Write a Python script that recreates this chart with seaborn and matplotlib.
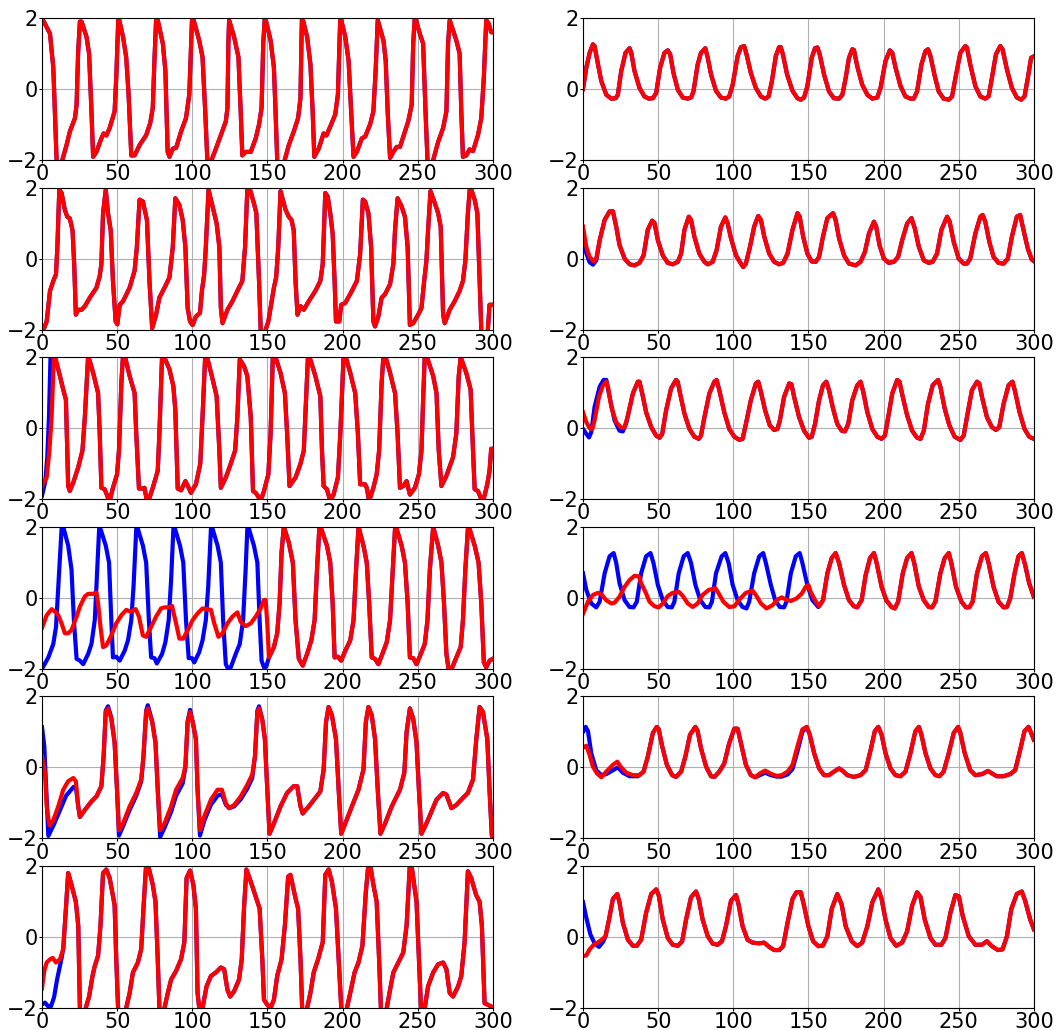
import matplotlib
matplotlib.use("Agg")
import matplotlib.pyplot as plt
import seaborn as sns

# time axis / tick setup
x_ticks = [0, 50, 100, 150, 200, 250, 300]
y_ticks = [-2, 0, 2]

# ---- left column: fast variable, (t, v) points ----
L1_red = [(0,2.0),(5.3,1.56),(7.5,0.6),(9.7,-2.0),(10.3,-2.3),(12.8,-2.3),(13.5,-2.0),(16.3,-1.58),(18.5,-1.2),(21.9,-0.82),(23,-0.44),(24,1.0),(25.2,1.9),(26.3,1.9),(29.6,1.47),(31.3,1.0),(32.9,-0.63),(34,-1.91),(36.2,-1.77),(39.5,-1.39),(41,-1.25),(42.8,-1.31),(45,-1.1),(48.3,-0.63),(49.4,0.32),(50.8,2.05),(53.9,1.47),(56,0.9),(57.6,-0.15),(59.4,-1.87),(61.6,-1.87),(64.9,-1.58),(69.3,-1.3),(72,-0.96),(73.7,-0.53),(74.8,0.8),(75.9,1.94),(77,1.94),(80.4,1.28),(82.1,0.51),(83.6,-1.77),(84.8,-1.91),(87,-1.68),(89.2,-1.66),(92.5,-1.2),(95.8,-0.82),(98,-0.15),(99.8,1.94),(100.7,1.97),(104.6,1.37),(106.8,0.9),(108.6,-0.63),(110,-2.0),(110.5,-2.3),(112,-2.3),(112.8,-2.0),(115.7,-1.68),(119,-1.3),(122.3,-0.91),(123.4,-0.53),(124,1.28),(124.5,1.94),(127.8,1.47),(130.7,0.9),(132.2,-0.63),(133.3,-1.87),(135.5,-1.77),(138.9,-1.77),(142.2,-1.39),(144.4,-1.0),(146.1,-0.53),(147.2,1.28),(148.3,2.05),(152.1,1.37),(154.3,0.61),(155.4,-0.63),(156.5,-2.0),(157,-2.3),(160.5,-2.3),(161.5,-2.0),(164.2,-1.58),(167.5,-1.2),(170.4,-0.82),(172,-0.25),(172.6,1.28),(173,2.05),(176.4,1.47),(178.6,0.7),(180.1,-0.63),(181.2,-1.91),(184.1,-1.68),(187.4,-1.25),(189.2,-1.31),(191.8,-1.06),(195.1,-0.72),(196.9,-0.15),(198.5,2.05),(201.8,1.47),(204,0.8),(205.7,-0.63),(207.3,-1.91),(209.5,-1.77),(212.8,-1.39),(215,-1.34),(218.3,-1.0),(220.5,-0.63),(222,0.51),(223.4,1.94),(227.2,1.37),(228.7,0.8),(230,-0.63),(231.6,-1.94),(233.8,-1.77),(236,-1.63),(238.2,-1.63),(241.5,-1.2),(243.7,-0.91),(246,-0.44),(247,1.28),(248.1,2.05),(251.4,1.56),(253.6,1.28),(255.2,-0.63),(256.5,-2.0),(257,-2.3),(259.5,-2.3),(260.3,-2.0),(263.6,-1.49),(266.9,-1.1),(269.1,-0.63),(270.2,1.28),(271.3,1.94),(275.7,1.37),(277.9,1.0),(279,-0.63),(280.1,-1.91),(282.3,-1.87),(284.5,-1.7),(286.8,-1.75),(290.1,-1.3),(292.3,-0.82),(294,0.32),(295.6,1.94),(297.1,1.85),(298.9,1.6),(300,1.6)]

L2_red = [(0,-2.3),(1,-2.0),(3.1,-1.77),(5.3,-0.91),(7.5,-0.63),(9.3,-0.44),(10.2,0.32),(11.5,1.94),(13,1.85),(15.2,1.37),(16.8,1.18),(18.5,1.13),(20.3,0.8),(21.4,-0.15),(22.5,-1.58),(24.1,-1.44),(26.3,-1.44),(28.5,-1.34),(31.8,-1.1),(36.2,-0.82),(38.4,-0.49),(39.5,-0.15),(40.6,1.28),(42.4,1.94),(43.9,1.28),(45.7,0.8),(47.2,-0.63),(49,-1.77),(50.1,-1.85),(51.7,-1.3),(53.9,-1.2),(58.3,-0.82),(61.6,-0.34),(63.1,0.32),(64.9,1.66),(67.1,1.61),(69.8,1.09),(71.5,-0.63),(73.3,-1.96),(75.9,-1.58),(78.1,-1.1),(81.5,-0.82),(84.8,-0.53),(87,0.32),(88.7,1.7),(91.4,1.51),(93.6,1.09),(95.4,0.32),(96.9,-1.39),(98.5,-1.77),(100.2,-1.87),(102.4,-1.63),(105.1,-1.53),(106.4,-0.91),(107.9,-0.44),(109,0.32),(110.8,1.94),(113.5,1.47),(116.2,0.99),(118,0.32),(119,-1.39),(120.1,-1.82),(123.4,-1.44),(126.7,-1.2),(130,-0.91),(133.3,-0.63),(135.1,0.32),(136.6,1.94),(137.7,2.05),(141,1.56),(142.6,1.28),(144.4,-0.63),(145.5,-2.0),(146,-2.3),(148.3,-2.3),(148.8,-2.0),(150.6,-1.77),(152.1,-1.39),(154.3,-0.82),(155.8,-0.53),(157.2,0.32),(158.7,1.9),(162.1,1.37),(164.2,1.18),(166,1.09),(167.5,0.8),(168.7,-0.63),(170,-1.58),(172,-1.34),(174.2,-1.44),(177.5,-1.2),(181.9,-0.91),(185.2,-0.63),(186.8,-0.15),(188.5,1.85),(190.1,1.75),(191.8,1.28),(193.4,0.7),(194.7,-0.63),(195.6,-1.77),(197.8,-1.77),(199.1,-1.3),(201.8,-1.25),(206.2,-0.91),(209.5,-0.63),(211.7,0.13),(213.5,1.66),(215,1.61),(217.2,1.28),(219,0.32),(220.5,-1.77),(221.6,-1.91),(223.8,-1.63),(226,-1.1),(228.3,-1.0),(231.6,-0.72),(233.8,-0.15),(234.9,0.8),(236.6,1.7),(239.3,1.47),(241.5,1.18),(243.3,0.32),(244.8,-1.87),(247,-1.82),(250.3,-1.58),(252.5,-1.39),(254.3,-0.63),(255.8,-0.06),(256.9,0.8),(258.5,1.9),(261.4,1.56),(263.6,1.28),(265.3,0.9),(266.9,-1.58),(268,-1.82),(271.3,-1.44),(274.6,-1.2),(277.9,-0.91),(280.1,-0.63),(281.7,-0.06),(283.4,1.28),(284.8,2.05),(287.9,1.66),(289.7,1.28),(291.2,-0.63),(292.3,-2.0),(292.8,-2.3),(296,-2.3),(296.7,-2.0),(297.8,-1.3),(300,-1.3)]

L3_red = [(0,-1.65),(0.4,-1.58),(3.1,-1.39),(4.9,-0.63),(6.4,0.32),(7.9,2.05),(8.6,2.05),(10.8,1.66),(14.1,1.09),(15.9,0.8),(16.8,-0.63),(17.4,-1.63),(18.5,-1.77),(20.8,-1.53),(24.1,-1.1),(26.9,-0.63),(28.5,0.32),(30.7,2.05),(34,1.56),(37.3,0.99),(38.4,-0.15),(39.5,-1.68),(41.7,-1.72),(43.9,-1.96),(45,-2.05),(47.2,-1.68),(49.9,-1.3),(51.2,-0.63),(52.8,1.28),(53.9,2.05),(55,2.05),(58.3,1.47),(61.6,0.99),(62.7,-0.15),(64.5,-1.7),(67.1,-1.7),(68.2,-1.68),(69.8,-2.05),(71.5,-1.96),(73.7,-1.68),(77,-1.2),(78.1,-0.15),(79.9,2.05),(80.8,2.05),(84.8,1.66),(87.4,1.18),(88.7,0.51),(90.3,-1.7),(92.5,-1.75),(95.4,-1.49),(97.6,-1.68),(99.1,-1.82),(102.4,-1.58),(105.3,-1.0),(106.8,0.32),(108.6,2.05),(109.5,2.05),(113,1.47),(116.2,0.9),(118,-0.63),(119,-1.68),(122.3,-1.39),(125.6,-1.0),(128.5,-0.63),(130,0.32),(131.6,1.94),(134.4,1.75),(136.6,1.47),(138.9,0.32),(140.4,-1.77),(142.2,-1.82),(144.4,-1.96),(145.5,-2.05),(147.7,-1.77),(150.6,-1.3),(152.1,-0.15),(153.6,2.05),(155,2.05),(158.7,1.56),(161.6,0.99),(163.1,-0.15),(164.7,-1.63),(168.7,-1.39),(172,-1.0),(174.2,-0.63),(175.7,0.8),(177,2.05),(178.5,1.94),(181.9,1.47),(185.2,0.9),(186.3,-0.63),(187.4,-1.63),(189.6,-1.72),(191.8,-2.05),(194,-1.87),(196.9,-1.39),(198.5,-0.15),(200.7,2.05),(201.8,2.05),(205.1,1.56),(208.4,0.99),(210.2,-0.15),(211.7,-1.58),(215,-1.58),(216.1,-1.68),(217.7,-2.05),(220.5,-1.68),(222.7,-1.3),(224.3,-0.63),(226,1.28),(227.2,2.05),(228.3,2.05),(231.6,1.56),(234.9,0.99),(236.6,-0.15),(238.2,-1.68),(240.4,-1.63),(242.6,-1.49),(244.8,-1.87),(248.1,-1.68),(250.8,-1.3),(252.5,-0.63),(253.6,0.8),(254.7,2.05),(255.8,2.05),(260.3,1.47),(262.5,0.99),(264,-0.63),(265.8,-1.63),(269.1,-1.34),(273.5,-0.82),(275.7,-0.15),(277.3,1.47),(278.6,2.0),(282.3,1.56),(285.2,1.09),(286.8,-0.63),(287.9,-1.72),(290.1,-1.77),(291.9,-1.96),(294.1,-1.96),(296.3,-1.58),(297.8,-1.2),(298.9,-0.58),(300,-0.58)]
L3_blue_head = [(0,-1.9),(2.2,-1.5),(3.5,-0.8),(4.6,0.3),(5.7,2.1),(7.5,2.1),(10.8,1.66)]

L4_red_head = [(0,-0.85),(3.1,-0.49),(6.4,-0.32),(8.6,-0.39),(10.8,-0.49),(13,-0.72),(15.2,-1.0),(17.4,-1.0),(19.6,-0.91),(23,-0.53),(25.2,-0.25),(28.5,0.04),(30.7,0.11),(34,0.11),(36.2,0.15),(37.3,-0.15),(38.9,-0.82),(40.6,-1.39),(42.8,-1.34),(46.1,-1.06),(49.4,-0.72),(52.8,-0.49),(56.1,-0.34),(58.9,-0.39),(62.3,-0.32),(64.5,-0.53),(67.1,-1.06),(69.3,-1.1),(72.6,-0.82),(75.9,-0.53),(79.2,-0.3),(81.5,-0.27),(84.3,-0.27),(86.5,-0.23),(89.2,-0.72),(91.4,-1.15),(94,-1.15),(97,-0.91),(100.2,-0.63),(103.5,-0.44),(106.8,-0.3),(110.2,-0.32),(112.4,-0.34),(114.6,-0.72),(117.4,-1.1),(120.1,-1.0),(123.4,-0.72),(126.7,-0.53),(130,-0.41),(132.2,-0.68),(135.5,-0.8),(138.9,-0.72),(142.2,-0.53),(145.5,-0.3),(147.7,-0.06),(148.8,-0.06),(149.9,-0.72),(151,-1.68)]
L4_blue_head = [(0,-2.0),(4.2,-1.68),(7.5,-1.3),(9.3,-0.82),(10.8,0.32),(13,1.94),(14.1,2.0),(17.4,1.47),(19.6,0.8),(21.2,-0.63),(23,-1.72),(25.2,-1.77),(27.4,-1.87),(30.7,-1.58),(32.9,-1.3),(35.1,-0.63),(36.2,0.32),(38,1.94),(38.9,1.94),(42.4,1.47),(44.6,0.99),(46.1,-0.63),(47.2,-1.68),(49.4,-1.66),(51.7,-1.77),(55,-1.49),(57.2,-1.2),(59.4,-0.63),(60.9,0.32),(62.7,1.94),(63.8,1.94),(67.1,1.47),(69.3,0.99),(71.1,-0.63),(72.6,-1.68),(74.8,-1.7),(76.4,-1.85),(79.9,-1.58),(82.1,-1.25),(84.3,-0.63),(85.9,0.51),(87.4,1.94),(88.5,1.94),(91.8,1.47),(94,0.99),(95.8,-0.63),(97.6,-1.7),(99.8,-1.7),(101.3,-1.82),(104.6,-1.53),(106.8,-1.2),(109,-0.63),(110.6,0.32),(112.4,1.94),(113.5,1.94),(116.8,1.47),(119,0.99),(120.5,-0.63),(122.3,-1.87),(124,-2.02),(125.6,-1.96),(128.9,-1.58),(131.6,-1.3),(133.8,-0.63),(135.5,0.8),(136.6,1.94),(137.7,1.94),(141,1.47),(143.3,0.99),(144.8,-0.63),(146.1,-1.77),(147.7,-1.96),(149.2,-1.94),(151,-1.68)]
L4_tail = [(154.3,-1.39),(156.5,-1.0),(158.1,-0.15),(159.4,1.28),(160.9,2.0),(164.2,1.56),(166.9,0.99),(168.7,-0.63),(170.9,-1.72),(173.5,-1.91),(176.4,-1.58),(179.2,-1.2),(181.4,-0.63),(183,0.8),(184.5,1.94),(185.8,1.94),(189.6,1.47),(191.8,0.99),(193.4,-0.15),(194.7,-1.68),(196.9,-1.66),(199.1,-1.77),(201.8,-1.49),(205.1,-1.2),(207.3,-0.63),(209,0.8),(210.6,2.0),(213.9,1.47),(216.1,0.99),(217.7,-0.15),(219.4,-1.68),(221.6,-1.72),(223.8,-1.87),(226.5,-1.58),(229.4,-1.25),(231.6,-0.63),(233.4,0.8),(234.9,1.94),(236,1.94),(239.3,1.47),(241.5,0.99),(243.3,-0.15),(244.8,-1.68),(247,-1.7),(249.2,-1.87),(252.1,-1.58),(254.7,-1.3),(256.5,-0.63),(258.1,0.8),(260.3,2.0),(263.6,1.47),(265.8,0.99),(267.5,-0.15),(269.1,-1.58),(270.6,-2.02),(272.8,-1.98),(275.7,-1.68),(278.6,-1.39),(280.1,-0.63),(281.7,0.8),(283.4,1.94),(284.5,1.94),(287.9,1.47),(290.5,0.99),(292.3,-0.15),(294,-1.82),(295.6,-1.96),(297.8,-1.77),(300,-1.72)]

L5_red = [(0,0.3),(2,-0.15),(3.1,-1.1),(4.9,-1.63),(7.5,-1.49),(10.8,-1.1),(14.1,-0.63),(17.4,-0.39),(20.8,-0.3),(22.5,-0.39),(24.1,-1.1),(25.2,-1.39),(28.5,-1.2),(32.9,-0.96),(36.2,-0.82),(39.5,-0.53),(41,0.32),(42.4,1.56),(43.9,1.66),(46.1,1.37),(48.3,0.7),(49.9,-0.63),(51.2,-1.77),(53.9,-1.58),(58.3,-1.1),(62.7,-0.72),(66,-0.34),(67.5,0.32),(69.3,1.56),(70.4,1.66),(73.3,1.28),(75.5,0.7),(77,-0.63),(78.6,-1.77),(81.5,-1.58),(85.9,-1.1),(89.2,-0.63),(93.6,-0.3),(95.4,0.04),(96.9,1.28),(98.5,1.56),(100.2,1.28),(102.4,0.8),(103.5,-0.63),(105.1,-1.77),(107.9,-1.39),(112.4,-0.91),(116.8,-0.63),(119.7,-0.63),(122.3,-1.01),(124.5,-1.15),(127.8,-1.06),(132.2,-0.82),(136.6,-0.49),(139.9,-0.2),(141.7,0.32),(143.3,1.56),(144.4,1.66),(146.6,1.32),(148.3,0.8),(149.9,-0.63),(151.4,-1.87),(154.3,-1.58),(158.7,-1.1),(163.1,-0.72),(167.5,-0.53),(169.8,-0.53),(172,-1.1),(173.5,-1.3),(177.5,-1.1),(181.9,-0.86),(185.2,-0.68),(187.4,-0.06),(189,1.28),(190.7,1.7),(192.9,1.47),(195.6,0.8),(197.4,-0.63),(199.1,-1.87),(201.8,-1.58),(206.2,-1.1),(210.6,-0.63),(213.9,-0.06),(215.5,1.28),(217.2,1.7),(219.4,1.47),(221.6,0.8),(223.4,-0.63),(225.2,-1.87),(228.3,-1.58),(232.7,-1.1),(238.2,-0.63),(241.1,-0.15),(242.6,0.99),(244.8,1.66),(247,1.37),(249.2,0.7),(250.8,-0.63),(252.5,-1.87),(255.8,-1.58),(259.1,-1.25),(262.5,-0.91),(266.9,-0.72),(269.1,-0.77),(272.4,-1.15),(275.7,-1.06),(279,-0.91),(283.4,-0.72),(286.8,-0.34),(289,0.8),(291.2,1.7),(293.4,1.56),(296.3,0.8),(297.8,-0.63),(299.3,-1.91),(300,-2.0)]
L5_blue_head = [(0,1.13),(1.5,0.6),(3,-0.8),(4.2,-1.93),(8,-1.6),(12,-1.2),(16,-0.8),(21,-0.55),(22.5,-0.55),(24.1,-1.1),(25.2,-1.4),(28.5,-1.2),(32.9,-0.96),(36.2,-0.82),(39.5,-0.53),(41,0.32),(42.4,1.6),(43.9,1.72),(46.1,1.4),(48.3,0.7),(49.9,-0.63),(51.2,-1.92),(54,-1.65),(58.3,-1.2),(62.7,-0.8),(66,-0.4),(67.5,0.3),(69.3,1.6),(70.4,1.75),(73.3,1.3),(75.5,0.7),(77,-0.63),(78.6,-1.96),(81.5,-1.7),(85.9,-1.25),(89.2,-0.8),(93.6,-0.45),(95.4,0.0),(96.9,1.3),(98.5,1.62),(100.2,1.3),(102.4,0.8),(103.5,-0.63),(105.1,-1.92),(108,-1.5),(112.4,-1.05),(116.8,-0.8),(119.7,-0.75),(122.3,-1.05),(124.5,-1.15),(127.8,-1.1),(132.2,-0.9),(136.6,-0.6),(139.9,-0.3),(141.7,0.3),(143.3,1.6),(144.4,1.72),(146.6,1.35),(148.3,0.8),(149.9,-0.63)]

L6_red = [(0,-1.45),(1.5,-0.95),(3.1,-0.72),(5.3,-0.63),(7.1,-0.59),(9.3,-0.72),(11.9,-0.63),(14.1,-0.34),(15.9,0.8),(17.4,1.8),(19.6,1.47),(22.5,0.99),(24.1,0.32),(25.2,-2.0),(25.6,-2.3),(28.6,-2.3),(29.1,-2.0),(31.3,-1.68),(33.6,-1.1),(35.1,-0.82),(37.3,-0.53),(38.9,0.32),(40.6,1.8),(42.8,1.9),(45,1.66),(48.3,0.9),(49.4,-0.63),(50.6,-2.0),(51,-2.3),(55.5,-2.3),(56,-2.0),(58.3,-1.58),(60.5,-1.0),(63.8,-0.72),(66,-0.34),(67.5,0.8),(69.3,2.05),(70.4,2.05),(73.7,1.47),(75.5,0.99),(77,-0.63),(78.1,-2.0),(78.5,-2.3),(81,-2.3),(81.5,-2.0),(83.7,-1.58),(85.9,-1.2),(89.2,-0.96),(92.5,-0.63),(94.7,-0.15),(96.2,1.66),(98.5,1.87),(100.7,1.47),(102.4,0.8),(103.5,-1.58),(104.6,-2.0),(105,-2.3),(106.3,-2.3),(106.8,-2.0),(109.5,-1.39),(112.4,-1.1),(115.7,-1.0),(119,-0.86),(121.2,-0.91),(123.4,-1.49),(125.2,-1.68),(127.8,-1.53),(131.1,-1.2),(132.9,-0.63),(134.4,0.8),(136,1.9),(138.9,1.56),(142.2,1.13),(144.8,0.8),(146.6,-0.63),(147.7,-1.77),(149.9,-1.91),(152.1,-2.0),(154.3,-1.77),(156.5,-1.1),(159.4,-0.63),(161.6,0.32),(163.8,1.7),(165.3,1.75),(168.7,1.09),(170.4,0.8),(172,-0.63),(173.1,-2.0),(173.5,-2.3),(176,-2.3),(176.4,-2.0),(178.6,-1.58),(180.8,-1.0),(183.7,-0.63),(186.8,-0.15),(188.5,1.75),(190.7,1.9),(192.9,1.56),(195.6,0.8),(197.4,-0.63),(199.1,-2.0),(199.5,-2.3),(202.5,-2.3),(202.9,-2.0),(205.1,-1.58),(208,-1.0),(210.6,-0.72),(213.2,-0.25),(215.5,1.28),(217.2,2.05),(218.3,2.05),(220.5,1.47),(222.7,0.99),(224.3,-0.63),(225.5,-2.0),(225.9,-2.3),(229,-2.3),(229.4,-2.0),(231.6,-1.49),(233.8,-1.0),(237.1,-0.72),(240.4,-0.44),(242.6,0.32),(244.8,2.05),(245.8,2.05),(247.7,1.47),(249.2,0.99),(250.8,-0.63),(252.1,-2.0),(252.5,-2.3),(254.3,-2.3),(254.7,-2.0),(256.9,-1.39),(260.3,-1.0),(263.6,-0.77),(266.9,-0.72),(269.1,-0.91),(271.3,-1.58),(273.5,-1.68),(276.9,-1.39),(279,-1.1),(281.2,-0.15),(283.4,1.85),(285.6,1.66),(288.9,1.18),(291.2,0.99),(292.7,0.32),(294.5,-1.87),(296.7,-1.91),(298.9,-1.96),(300,-1.98)]
L6_blue_head = [(0,-1.9),(2,-1.85),(4,-1.95),(6,-1.95),(8,-1.7),(10,-1.2),(13,-0.6)]

# ---- right column: slow variable ----
R1_red = [(0,0.0),(2.2,0.6),(4.4,1.02),(6.6,1.26),(7.7,1.21),(10,0.69),(12.2,0.22),(15.5,-0.16),(18.8,-0.27),(21.7,-0.26),(23.2,-0.16),(25.4,0.5),(28.3,1.02),(31,1.15),(32.1,1.02),(34.3,0.5),(37.6,0.03),(40.9,-0.21),(43.8,-0.27),(46.5,-0.26),(48.7,-0.11),(51.3,0.6),(54.2,1.02),(56.4,1.09),(58,0.98),(60.2,0.45),(63.1,-0.02),(66.4,-0.24),(69.7,-0.27),(71.9,-0.24),(73.5,-0.07),(76.3,0.69),(78.5,1.02),(81.4,1.15),(83,0.88),(85.2,0.41),(88.5,-0.05),(91.8,-0.24),(95.1,-0.27),(97.3,-0.21),(99.6,0.12),(102.9,0.93),(105.1,1.18),(107.3,1.21),(108.8,0.98),(111.7,0.45),(115,0.03),(118.4,-0.21),(121.2,-0.27),(123.5,-0.21),(125.7,0.22),(128.3,0.93),(130.5,1.18),(131.6,1.18),(133,0.98),(135.8,0.41),(139.4,-0.05),(142.7,-0.26),(144.9,-0.3),(147.1,-0.24),(149.3,0.08),(152.2,0.88),(154.4,1.15),(156,1.17),(157.5,0.98),(160.4,0.41),(163.7,-0.07),(167,-0.26),(170.4,-0.27),(172.6,-0.16),(174.8,0.31),(177,0.88),(179.2,1.12),(180.3,1.1),(182.5,0.64),(185.8,0.12),(189.2,-0.16),(192.5,-0.27),(195.8,-0.24),(198,0.03),(201.3,0.79),(204.2,1.09),(205.8,1.02),(208,0.6),(211.3,0.08),(214.6,-0.21),(217.9,-0.27),(220.1,-0.27),(222.3,-0.07),(225.2,0.69),(227.9,1.07),(229.6,1.12),(231.2,0.93),(234.1,0.36),(236.7,-0.07),(240,-0.27),(243.4,-0.3),(245.6,-0.21),(247.8,0.31),(251.1,1.02),(254.4,1.21),(255.5,1.17),(257.7,0.69),(261.1,0.08),(264.4,-0.21),(267.7,-0.27),(269.9,-0.21),(272.1,0.31),(274.8,0.98),(277.7,1.21),(279.2,1.12),(282.1,0.55),(285.4,0.03),(288.7,-0.24),(291.6,-0.3),(293.8,-0.21),(296,0.31),(298.2,0.88),(300,0.92)]

R2_red = [(0,0.9),(2.2,0.33),(4.4,0.05),(7.1,-0.08),(8.8,0.0),(11.1,0.52),(14.4,1.09),(17.7,1.33),(19.9,1.33),(22.1,0.9),(24.3,0.38),(27.7,0.0),(31,-0.16),(34.3,-0.19),(37.6,-0.12),(40.3,0.09),(43.1,0.81),(46,1.07),(47.6,1.0),(49.8,0.52),(53.1,0.09),(56.4,-0.12),(59.7,-0.16),(63.1,-0.09),(65.3,0.14),(67.5,0.81),(70.4,1.18),(71.9,1.09),(74.1,0.62),(77.4,0.14),(80.8,-0.09),(83,-0.16),(86.3,-0.09),(88.9,0.24),(91.8,0.9),(94.7,1.16),(96.2,1.0),(98.5,0.57),(101.8,0.09),(105.1,-0.14),(106.6,-0.24),(108.4,-0.14),(111.1,0.33),(113.9,0.9),(116.6,1.2),(118.4,1.09),(120.6,0.62),(123.9,0.14),(127.2,-0.09),(130.5,-0.16),(133.2,-0.12),(136.1,0.14),(139.4,0.81),(142.7,1.28),(144.2,1.18),(146.5,0.62),(149.3,0.14),(152.2,-0.08),(154.9,-0.09),(157.1,0.05),(159.7,0.62),(162.6,1.14),(166.4,1.28),(168.1,1.09),(170.4,0.57),(173.7,0.09),(177,-0.14),(181.4,-0.19),(184.7,-0.09),(187.6,0.19),(190.3,0.71),(193.6,1.04),(195.1,0.9),(197.3,0.38),(200.2,0.0),(203.5,-0.12),(206.9,-0.09),(209.7,0.05),(212.4,0.52),(215.7,0.99),(218.6,1.14),(220.8,0.85),(223.5,0.33),(226.8,-0.05),(230.1,-0.12),(232.7,-0.09),(235.6,0.14),(238.5,0.81),(242.3,1.18),(244,1.04),(246.7,0.47),(250,0.0),(253.3,-0.14),(255.5,-0.14),(257.7,0.0),(261.1,0.71),(264.4,1.18),(265.9,1.23),(267.7,1.04),(270.4,0.47),(273.2,0.05),(276.5,-0.12),(279.9,-0.14),(282.7,0.0),(285.4,0.62),(288.7,1.18),(290.9,1.23),(293.1,0.81),(296,0.28),(298.7,-0.03),(300,-0.07)]
R2_blue_head = [(0,0.75),(2.2,0.15),(4.4,-0.1),(6.6,-0.17),(8.8,-0.05)]

R3_red = [(0,0.45),(2.2,0.17),(4.4,0.0),(6.2,-0.02),(7.7,0.22),(10.6,0.88),(13.3,1.21),(15.5,1.31),(16.6,1.17),(18.8,0.6),(22.1,0.17),(25.4,0.01),(27.7,0.03),(29.9,0.36),(33.2,0.98),(36.5,1.31),(37.6,1.31),(39.4,0.98),(42,0.45),(45.4,0.03),(48.7,-0.21),(50.9,-0.27),(52.7,-0.16),(55.3,0.5),(58.6,1.12),(61.9,1.36),(63,1.31),(64.6,0.98),(67.5,0.41),(70.8,-0.02),(74.1,-0.24),(77,-0.3),(78.5,-0.21),(80.8,0.31),(84.1,0.98),(87.4,1.31),(88.9,1.36),(90.7,1.07),(94,0.45),(97.3,-0.02),(100.7,-0.24),(104,-0.33),(106.2,-0.3),(108.4,0.12),(111.7,0.79),(115,1.26),(116.6,1.31),(118.4,1.02),(121.2,0.5),(124.3,0.08),(127.2,-0.05),(129.4,-0.02),(131,0.22),(133.8,0.88),(137.2,1.26),(138.7,1.24),(140.5,0.88),(143.8,0.31),(147.1,-0.07),(150.4,-0.27),(152.2,-0.24),(154.4,0.12),(157.1,0.79),(159.7,1.21),(161.9,1.31),(163.7,1.07),(166.4,0.55),(169.2,0.12),(172.1,-0.07),(174.3,-0.09),(176.5,0.12),(179.2,0.79),(182.5,1.21),(184.7,1.31),(186.5,1.02),(189.2,0.45),(192.5,-0.02),(195.8,-0.24),(198.7,-0.3),(200.9,-0.21),(203.1,0.31),(205.8,0.98),(209.1,1.36),(210.6,1.31),(212.8,0.88),(215.7,0.36),(219,-0.07),(222.3,-0.27),(224.6,-0.3),(226.8,-0.07),(229.6,0.69),(232.7,1.21),(236.3,1.36),(237.8,1.17),(240.7,0.55),(243.8,0.08),(247.3,-0.24),(251.1,-0.33),(253.3,-0.21),(255.5,0.31),(258.8,1.07),(262.2,1.31),(263.7,1.26),(265.5,0.88),(268.8,0.31),(272.1,0.03),(274.8,-0.05),(277,0.03),(279.9,0.69),(283.2,1.21),(285.8,1.31),(287.6,1.02),(290.5,0.45),(293.8,-0.02),(296.9,-0.24),(300,-0.3)]
R3_blue_head = [(0,-0.02),(2.2,-0.16),(4,-0.26),(5.5,-0.11),(7.7,0.6),(11.1,1.17),(13.7,1.36),(15.5,1.36),(17.7,0.88),(21,0.22),(24.3,-0.07),(26.5,-0.09),(28.8,0.15)]

R4_red_head = [(0,-0.45),(3.3,-0.11),(6.6,0.08),(10,0.14),(12.2,0.1),(15.5,-0.07),(18.8,-0.16),(21,-0.14),(24.3,0.03),(27.7,0.31),(31,0.5),(34.3,0.62),(37.2,0.6),(38.7,0.41),(42,0.12),(44.2,-0.11),(47.6,-0.24),(50.4,-0.27),(53.1,-0.16),(56.4,0.05),(59.7,0.14),(63.7,0.17),(66.4,0.05),(69.7,-0.16),(73,-0.26),(76.3,-0.16),(79.6,0.08),(83.6,0.22),(88.1,0.27),(90.3,0.12),(93.4,-0.11),(97.3,-0.26),(100.7,-0.24),(104,-0.05),(108.4,0.14),(112.8,0.2),(115,0.08),(118.4,-0.16),(122.1,-0.3),(126.1,-0.21),(129.4,-0.05),(132.3,0.01),(135,-0.05),(138.3,-0.09),(142.1,-0.02),(145.6,0.12),(148.2,0.31),(150,0.36),(151.5,0.17),(154.4,-0.07),(157.1,-0.24)]
R4_blue_head = [(0,0.69),(2.2,0.22),(5.5,-0.16),(8.8,-0.27),(11.1,-0.11),(14.4,0.69),(17.7,1.17),(20.4,1.26),(22.1,0.98),(24.3,0.41),(27.7,-0.07),(31,-0.26),(33.6,-0.27),(35.8,-0.11),(38.7,0.69),(42,1.17),(44.9,1.26),(46.9,0.98),(49.8,0.36),(53.1,-0.07),(56.4,-0.26),(59.1,-0.27),(60.8,-0.11),(63.7,0.69),(67,1.17),(69.7,1.26),(71.9,0.98),(74.8,0.36),(78.1,-0.07),(81.4,-0.26),(84.1,-0.27),(85.8,-0.11),(88.5,0.69),(92.3,1.17),(94.7,1.26),(96.9,0.98),(99.6,0.36),(102.9,-0.07),(106.2,-0.26),(108.8,-0.3),(110.6,-0.11),(113.9,0.69),(117.3,1.17),(119.9,1.26),(121.7,0.98),(125,0.36),(127.9,-0.07),(131,-0.26),(133.8,-0.27),(135.4,-0.11),(138.3,0.69),(141.6,1.17),(144.2,1.26),(146,0.98),(149.3,0.36),(152.7,-0.07),(156.6,-0.26)]
R4_tail = [(159.7,-0.07),(162.6,0.69),(165.5,1.12),(168.1,1.26),(170.4,0.98),(173.7,0.36),(177,-0.07),(180.3,-0.24),(182.5,-0.27),(185.4,-0.07),(188.1,0.64),(191,1.12),(193.6,1.26),(195.4,0.98),(198.7,0.31),(201.8,-0.07),(205.3,-0.26),(207.5,-0.3),(209.7,-0.11),(212.8,0.69),(215.7,1.12),(218.6,1.26),(220.4,0.98),(223.5,0.31),(226.8,-0.07),(230.1,-0.26),(232.3,-0.27),(234.5,-0.11),(237.8,0.69),(240.7,1.12),(243.4,1.26),(245.1,0.98),(248.2,0.31),(251.8,-0.11),(254.9,-0.27),(257.1,-0.27),(259.3,-0.11),(262.2,0.69),(265.5,1.17),(268.1,1.26),(269.9,0.98),(273.2,0.31),(276.5,-0.11),(279.9,-0.27),(282.1,-0.26),(284.3,-0.02),(287.2,0.69),(289.8,1.17),(292,1.26),(294.2,0.93),(296.9,0.41),(300,0.03)]

R5_red = [(0,0.55),(2.2,0.61),(4.4,0.35),(6.6,0.02),(9.3,-0.17),(12.2,-0.28),(15.5,-0.12),(19.9,0.07),(22.8,0.16),(25.4,0.0),(28.8,-0.15),(33.2,-0.22),(37.6,-0.22),(40.3,-0.12),(43.1,0.3),(46.5,0.97),(49.1,1.14),(50.4,1.07),(52.7,0.59),(55.8,0.07),(59.3,-0.22),(61.9,-0.27),(65.3,-0.12),(68.1,0.3),(71.2,0.92),(74.8,1.14),(76.3,1.02),(78.5,0.54),(81.9,0.02),(85.2,-0.25),(87.4,-0.27),(90.7,-0.12),(94,0.11),(97.3,0.68),(100.7,1.09),(102.9,1.09),(105.1,0.68),(108.4,0.07),(111.7,-0.22),(114.6,-0.28),(117.7,-0.17),(121.2,-0.09),(125,-0.18),(128.8,-0.24),(132.3,-0.22),(136.1,-0.12),(139.4,0.07),(142.7,0.59),(146,1.07),(148.9,1.14),(150.9,0.92),(153.8,0.4),(157.1,-0.03),(160.4,-0.22),(163.7,-0.22),(167,-0.12),(170.4,-0.03),(172.6,-0.09),(175.9,-0.22),(180.3,-0.27),(184.7,-0.22),(188.1,-0.08),(191.4,0.49),(194.2,1.02),(196.5,1.14),(198.7,0.92),(201.3,0.4),(204.6,-0.03),(207.9,-0.22),(211.3,-0.25),(214.6,-0.12),(217.9,0.4),(221.2,1.02),(223.5,1.14),(225.2,0.92),(227.9,0.4),(231.2,-0.03),(234.5,-0.22),(237.2,-0.25),(240,-0.12),(243.4,0.4),(246.7,0.97),(249.6,1.14),(251.1,0.97),(254,0.4),(257.7,-0.08),(261.1,-0.22),(265.5,-0.19),(269.5,-0.1),(272.1,-0.17),(275.4,-0.25),(279.9,-0.25),(284.3,-0.19),(287.6,-0.08),(290.9,0.49),(293.8,1.02),(296.5,1.14),(298.2,0.97),(300,0.78)]
R5_blue_head = [(0,1.0),(1.8,1.14),(3.3,1.02),(5.5,0.4),(8.8,-0.08),(12.2,-0.22),(15.5,-0.19),(19.9,-0.08),(23.2,0.0),(26.5,-0.15),(31,-0.25),(36.5,-0.25)]
R5_blue_mid = [(111.7,-0.22),(114.6,-0.28),(117.7,-0.22),(121.2,-0.15),(125,-0.22),(128.8,-0.26),(132.3,-0.26),(136.1,-0.2),(139.4,-0.05),(142.7,0.45),(146,1.0)]

R6_red = [(0,-0.54),(2.2,-0.52),(4.4,-0.35),(7.1,-0.22),(10,-0.15),(12.8,-0.07),(15,0.02),(17.3,0.49),(19.9,1.07),(22.8,1.21),(24.3,0.97),(26.5,0.4),(29.9,-0.08),(33.2,-0.25),(35.8,-0.25),(38.7,-0.08),(42,0.68),(45.4,1.21),(48.7,1.34),(50.4,1.17),(53.1,0.49),(56.4,-0.03),(59.7,-0.22),(63.1,-0.25),(66,-0.12),(68.6,0.49),(71.9,1.12),(75.2,1.28),(77,1.07),(79.6,0.49),(83,0.02),(86.3,-0.19),(89.6,-0.22),(92.5,-0.12),(95.1,0.3),(98.5,1.02),(101.8,1.18),(103.5,0.92),(106.2,0.3),(109.5,-0.08),(112.8,-0.16),(117.3,-0.18),(120.6,-0.16),(123.9,-0.28),(127.2,-0.37),(130.5,-0.37),(133.2,-0.26),(136.1,0.4),(139.4,1.07),(142,1.26),(144.9,1.26),(147.1,0.88),(150,0.3),(153.1,-0.12),(156.6,-0.26),(159.7,-0.24),(162.6,0.02),(165.5,0.79),(169.2,1.21),(172.1,0.92),(174.8,0.3),(178.8,-0.12),(182.5,-0.26),(185.8,-0.16),(189.2,0.3),(192.5,0.97),(196.5,1.34),(198.7,1.07),(201.3,0.49),(204.6,-0.03),(208.4,-0.25),(212.4,-0.16),(215.7,0.16),(219,0.88),(222.3,1.26),(224.6,1.12),(227.4,0.49),(231.2,-0.03),(234.5,-0.22),(238.5,-0.22),(241.2,-0.03),(244.5,0.68),(247.8,1.18),(250.1,1.14),(252.7,0.59),(256.7,0.02),(261.1,-0.22),(265.5,-0.22),(268.8,-0.12),(272.1,-0.26),(276.1,-0.37),(279.2,-0.35),(282.1,0.02),(285,0.79),(288.7,1.21),(292,1.28),(294.2,1.02),(297.6,0.49),(300,0.22)]
R6_blue_head = [(0,0.98),(2.2,0.54),(4.9,0.07),(7.7,-0.18),(10.6,-0.28),(13.3,-0.14)]


def after(pts, t0, t1=1e9):
    return [p for p in pts if t0 <= p[0] < t1]


# (blue, red) per panel, row by row: left then right
panels = [
    (L1_red, L1_red), (R1_red, R1_red),
    (L2_red, L2_red), (R2_blue_head + after(R2_red, 11), R2_red),
    (L3_blue_head + after(L3_red, 14), L3_red), (R3_blue_head + after(R3_red, 29.5), R3_red),
    (L4_blue_head + L4_tail, L4_red_head + L4_tail), (R4_blue_head + R4_tail, R4_red_head + R4_tail),
    (L5_blue_head + after(L5_red, 150.5), L5_red),
    (R5_blue_head + after(R5_red, 40, 111) + R5_blue_mid + after(R5_red, 147), R5_red),
    (L6_blue_head + after(L6_red, 14), L6_red), (R6_blue_head + after(R6_red, 15), R6_red),
]

fig, axes = plt.subplots(6, 2, figsize=(10.56, 10.30), dpi=100)
fig.subplots_adjust(left=0.0398, right=0.979, top=0.9825, bottom=0.0214, wspace=0.2, hspace=0.194)

for ax, (blue, red) in zip(axes.flat, panels):
    for pts, col in ((blue, "blue"), (red, "red")):
        t = [p[0] for p in pts]
        v = [p[1] for p in pts]
        sns.lineplot(x=t, y=v, ax=ax, color=col, linewidth=3, sort=False, estimator=None)
    ax.set_xlim(0, 300)
    ax.set_ylim(-2, 2)
    ax.set_xticks(x_ticks)
    ax.set_yticks(y_ticks)
    ax.tick_params(labelsize=15, length=2, pad=1)
    ax.grid(True)
    ax.set_xlabel("")
    ax.set_ylabel("")

plt.savefig("out.png", dpi=100)
